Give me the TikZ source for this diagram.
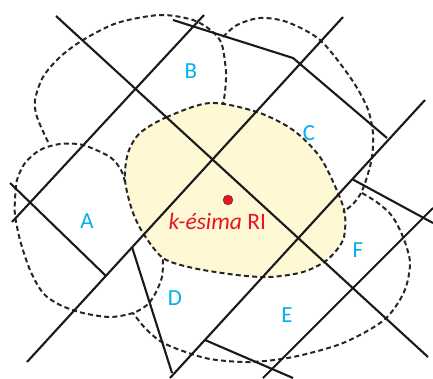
\documentclass[tikz,border=0pt]{standalone}
\usepackage{fontspec}
\setmainfont{Carlito}
\usepackage{tikz}
\usetikzlibrary{positioning}
\definecolor{cellblue}{RGB}{0,176,240}
\definecolor{rired}{RGB}{232,20,36}
\definecolor{riyellow}{RGB}{255,248,212}

\begin{document}
\begin{tikzpicture}[x=1pt, y=-1pt,
    street/.style={line width=2.1pt, black!90},
    cellborder/.style={line width=2pt, dash pattern=on 5pt off 3.2pt, black!85},
    cellname/.style={text=cellblue, font=\fontsize{23}{27}\selectfont},
    rilabel/.style={text=rired, font=\fontsize{23.5}{27}\selectfont}
]
    \useasboundingbox (0,0) rectangle (433,378);

    % Central cell
    \fill[riyellow] plot[smooth cycle] coordinates {(210,103) (167,117) (140,133) (128,153) (125,180) (132,210) (143,233) (163,258) (193,268) (237,275) (270,277) (303,272) (327,260) (343,240) (345,215) (338,193) (320,157) (293,130) (257,112)};
    \draw[cellborder] plot[smooth cycle] coordinates {(210,103) (167,117) (140,133) (128,153) (125,180) (132,210) (143,233) (163,258) (193,268) (237,275) (270,277) (303,272) (327,260) (343,240) (345,215) (338,193) (320,157) (293,130) (257,112)};

    % Neighbouring cells
    \draw[cellborder] plot[smooth] coordinates {(48,142) (37,117) (35,100) (43,77) (60,57) (83,40) (117,23) (160,15) (193,20) (213,32) (222,45) (226,72) (225,92) (223,104)};
    \draw[cellborder] plot[smooth] coordinates {(223,37) (237,25) (260,18) (287,22) (320,40) (350,77) (367,107) (373,133) (372,157) (367,177) (361,193) (353,204) (343,212)};
    \draw[cellborder] plot[smooth] coordinates {(125,182) (121,170) (110,157) (83,145) (60,144) (40,150) (25,163) (17,180) (15,200) (15,215) (20,240) (30,270) (43,293) (60,305) (83,313) (110,317) (133,313) (147,305) (155,294) (162,277) (163,258)};
    \draw[cellborder] plot[smooth] coordinates {(362,193) (378,203) (392,216) (403,237) (410,263) (404,292) (384,320) (343,343) (293,357) (250,362) (210,359) (180,350) (160,341) (145,328) (133,313)};

    % Lines
    \coordinate (l1a) at (56,16);   \coordinate (l1b) at (428,357);
    \coordinate (l2a) at (204,15);  \coordinate (l2b) at (12,222);
    \coordinate (l3a) at (173,20);  \coordinate (l3m) at (293,58);  \coordinate (l3b) at (387,138);
    \coordinate (l4a) at (343,17);  \coordinate (l4b) at (27,362);
    \coordinate (l5a) at (425,100); \coordinate (l5b) at (170,378);
    \coordinate (l6a) at (433,208); \coordinate (l6b) at (263,378);
    \coordinate (l7a) at (132,247); \coordinate (l7b) at (172,373);
    \coordinate (l8a) at (10,183);  \coordinate (l8b) at (106,276);
    \coordinate (l9a) at (352,179); \coordinate (l9b) at (433,223);
    \coordinate (l10a) at (205,340); \coordinate (l10b) at (293,378);

    \draw[street] (l1a) -- (l1b);
    \draw[street] (l2a) -- (l2b);
    \draw[street] (l3a) -- (l3m) -- (l3b);
    \draw[street] (l4a) -- (l4b);
    \draw[street] (l5a) -- (l5b);
    \draw[street] (l6a) -- (l6b);
    \draw[street] (l7a) -- (l7b);
    \draw[street] (l8a) -- (l8b);
    \draw[street] (l9a) -- (l9b);
    \draw[street] (l10a) -- (l10b);

    % Cell names
    \node[cellname] (cellA) at (87,221) {A};
    \node[cellname] (cellB) at (191,71) {B};
    \node[cellname] (cellC) at (309,133) {C};
    \node[cellname] (cellD) at (175,298) {D};
    \node[cellname] (cellE) at (287,315) {E};
    \node[cellname] (cellF) at (358,250) {F};

    % k-th RI
    \node[circle, fill=rired, draw=black!70, thin, inner sep=0pt, minimum size=10pt] (ri) at (228,200) {};
    \node[rilabel, anchor=base west] (kth) at (165,229) {\textit{k-ésima} RI};
\end{tikzpicture}
\end{document}
